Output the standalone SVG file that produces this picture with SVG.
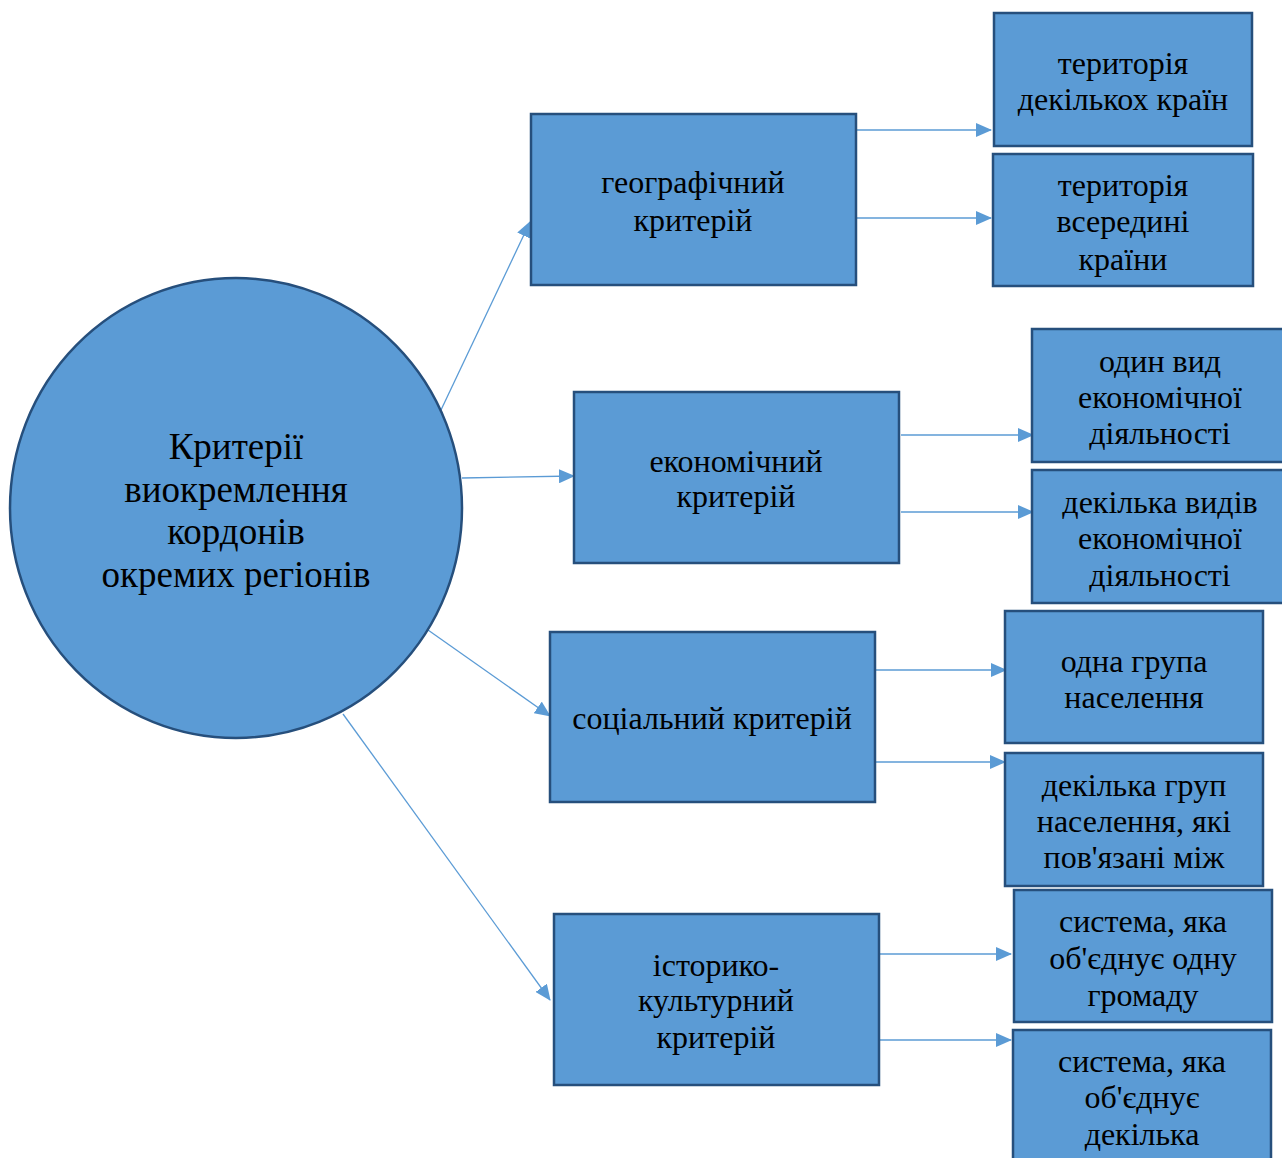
<svg xmlns="http://www.w3.org/2000/svg" width="1282" height="1158" viewBox="0 0 1282 1158">
<style>
.n{fill:#5B9BD5;stroke:#264F7C;stroke-width:2.5}
.t{font-family:"Liberation Serif","Times New Roman",serif;font-size:32px;fill:#000;text-anchor:middle}
.c{font-family:"Liberation Serif","Times New Roman",serif;font-size:37px;fill:#000;text-anchor:middle}
.e{stroke:#5B9BD5;stroke-width:1.3;fill:none;marker-end:url(#a)}
</style>
<defs>
<marker id="a" markerUnits="userSpaceOnUse" markerWidth="16" markerHeight="14" refX="15" refY="7" orient="auto">
<path d="M0,0 L16,7 L0,14 Z" fill="#5B9BD5"/>
</marker>
</defs>
<rect width="1282" height="1158" fill="#fff"/>
<g id="connectors">
<line class="e" x1="441" y1="410" x2="530" y2="222"/>
<line class="e" x1="462" y1="478" x2="574" y2="476"/>
<line class="e" x1="428" y1="630" x2="550" y2="716"/>
<line class="e" x1="343" y1="714" x2="550" y2="1000"/>
<line class="e" x1="857" y1="130" x2="991" y2="130"/>
<line class="e" x1="857" y1="218" x2="991" y2="218"/>
<line class="e" x1="901" y1="435" x2="1033" y2="435"/>
<line class="e" x1="901" y1="512" x2="1033" y2="512"/>
<line class="e" x1="875" y1="670" x2="1006" y2="670"/>
<line class="e" x1="875" y1="762" x2="1005" y2="762"/>
<line class="e" x1="879" y1="954" x2="1011" y2="954"/>
<line class="e" x1="879" y1="1040" x2="1011" y2="1040"/>
</g>
<g id="root">
<ellipse class="n" cx="236" cy="508" rx="226" ry="230"/>
<text class="c" x="236" y="459">Критерії</text>
<text class="c" x="236" y="502">виокремлення</text>
<text class="c" x="236" y="544">кордонів</text>
<text class="c" x="236" y="587">окремих регіонів</text>
</g>
<g id="geo">
<rect class="n" x="531" y="114" width="325" height="171"/>
<text class="t" x="693" y="193">географічний</text>
<text class="t" x="693" y="231">критерій</text>
</g>
<g id="econ">
<rect class="n" x="574" y="392" width="325" height="171"/>
<text class="t" x="736" y="472">економічний</text>
<text class="t" x="736" y="507">критерій</text>
</g>
<g id="soc">
<rect class="n" x="550" y="632" width="325" height="170"/>
<text class="t" x="712" y="729">соціальний критерій</text>
</g>
<g id="hist">
<rect class="n" x="554" y="914" width="325" height="171"/>
<text class="t" x="716" y="976">історико-</text>
<text class="t" x="716" y="1011">культурний</text>
<text class="t" x="716" y="1048">критерій</text>
</g>
<g id="geo1">
<rect class="n" x="994" y="13" width="258" height="133"/>
<text class="t" x="1123" y="74">територія</text>
<text class="t" x="1123" y="110">декількох країн</text>
</g>
<g id="geo2">
<rect class="n" x="993" y="154" width="260" height="132"/>
<text class="t" x="1123" y="196">територія</text>
<text class="t" x="1123" y="232">всередині</text>
<text class="t" x="1123" y="270">країни</text>
</g>
<g id="econ1">
<rect class="n" x="1032" y="329" width="252" height="133"/>
<text class="t" x="1160" y="372">один вид</text>
<text class="t" x="1160" y="408">економічної</text>
<text class="t" x="1160" y="444">діяльності</text>
</g>
<g id="econ2">
<rect class="n" x="1032" y="470" width="252" height="133"/>
<text class="t" x="1160" y="513">декілька видів</text>
<text class="t" x="1160" y="549">економічної</text>
<text class="t" x="1160" y="586">діяльності</text>
</g>
<g id="soc1">
<rect class="n" x="1005" y="611" width="258" height="132"/>
<text class="t" x="1134" y="672">одна група</text>
<text class="t" x="1134" y="708">населення</text>
</g>
<g id="soc2">
<rect class="n" x="1005" y="753" width="258" height="133"/>
<text class="t" x="1134" y="796">декілька груп</text>
<text class="t" x="1134" y="832">населення, які</text>
<text class="t" x="1134" y="868">пов'язані між</text>
</g>
<g id="hist1">
<rect class="n" x="1014" y="890" width="258" height="132"/>
<text class="t" x="1143" y="932">система, яка</text>
<text class="t" x="1143" y="969">об'єднує одну</text>
<text class="t" x="1143" y="1006">громаду</text>
</g>
<g id="hist2">
<rect class="n" x="1013" y="1030" width="258" height="140"/>
<text class="t" x="1142" y="1072">система, яка</text>
<text class="t" x="1142" y="1108">об'єднує</text>
<text class="t" x="1142" y="1145">декілька</text>
</g>
</svg>
